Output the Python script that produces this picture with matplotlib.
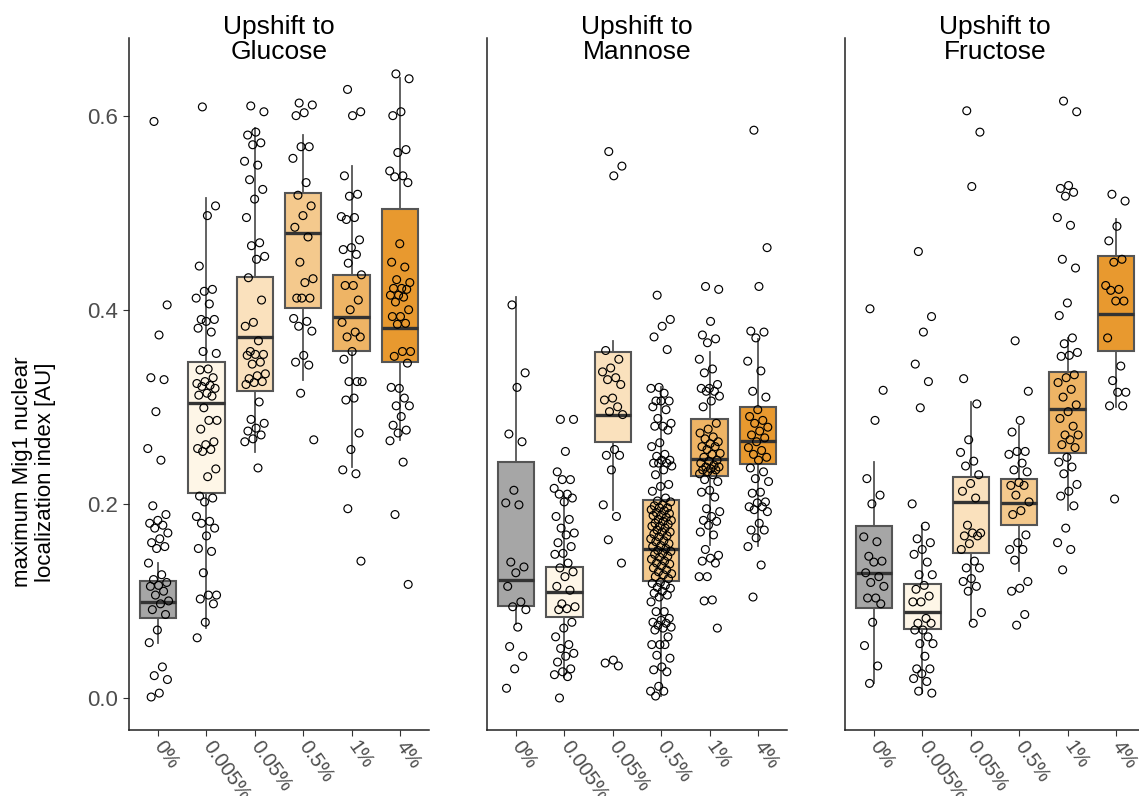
import numpy as np
import matplotlib.pyplot as plt

# --- données ---
CONDITIONS = ["0%", "0.005%", "0.05%", "0.5%", "1%", "4%"]
SUCRES = ["Glucose", "Mannose", "Fructose"]
COULEURS = ["#A6A6A6", "#FEF6E7", "#FAE1BD", "#F4C98D", "#EEB465", "#E8992F"]

# points individuels (index de localisation maximal)
gluc_0 = [0.594, 0.405, 0.374, 0.330, 0.328, 0.295, 0.257, 0.245, 0.198, 0.189, 0.183, 0.180,
          0.178, 0.175, 0.170, 0.164, 0.160, 0.156, 0.154, 0.139, 0.127, 0.122, 0.119, 0.116,
          0.115, 0.110, 0.106, 0.100, 0.097, 0.091, 0.086, 0.070, 0.057, 0.032, 0.023, 0.019,
          0.005, 0.001]
gluc_0005 = [0.609, 0.507, 0.497, 0.445, 0.421, 0.419, 0.412, 0.406, 0.390, 0.390, 0.388, 0.381,
             0.377, 0.357, 0.355, 0.339, 0.338, 0.330, 0.326, 0.324, 0.322, 0.321, 0.319, 0.314,
             0.312, 0.311, 0.299, 0.286, 0.286, 0.277, 0.264, 0.261, 0.257, 0.256, 0.254, 0.236,
             0.228, 0.208, 0.206, 0.202, 0.187, 0.182, 0.180, 0.175, 0.167, 0.154, 0.151, 0.129,
             0.106, 0.106, 0.102, 0.097, 0.078, 0.062]
gluc_005 = [0.610, 0.604, 0.583, 0.580, 0.572, 0.570, 0.553, 0.549, 0.534, 0.524, 0.514, 0.495,
            0.469, 0.466, 0.455, 0.452, 0.433, 0.410, 0.387, 0.383, 0.368, 0.357, 0.354, 0.354,
            0.353, 0.346, 0.344, 0.334, 0.332, 0.329, 0.326, 0.325, 0.323, 0.305, 0.287, 0.283,
            0.278, 0.275, 0.271, 0.267, 0.264, 0.237]
gluc_05 = [0.613, 0.611, 0.603, 0.600, 0.568, 0.568, 0.556, 0.531, 0.518, 0.507, 0.497, 0.485,
           0.475, 0.449, 0.432, 0.428, 0.412, 0.412, 0.412, 0.391, 0.388, 0.383, 0.378, 0.353,
           0.346, 0.343, 0.314, 0.266]
gluc_1 = [0.627, 0.604, 0.600, 0.538, 0.519, 0.517, 0.496, 0.495, 0.493, 0.472, 0.464, 0.462,
          0.457, 0.448, 0.436, 0.425, 0.425, 0.410, 0.400, 0.387, 0.377, 0.372, 0.372, 0.357,
          0.349, 0.326, 0.326, 0.326, 0.309, 0.307, 0.273, 0.256, 0.235, 0.231, 0.195, 0.141]
gluc_4 = [0.643, 0.638, 0.604, 0.600, 0.565, 0.562, 0.543, 0.538, 0.537, 0.531, 0.468, 0.449,
          0.444, 0.431, 0.428, 0.422, 0.422, 0.421, 0.415, 0.415, 0.413, 0.408, 0.400, 0.393,
          0.393, 0.386, 0.385, 0.357, 0.357, 0.352, 0.345, 0.319, 0.320, 0.309, 0.301, 0.301,
          0.290, 0.281, 0.276, 0.273, 0.265, 0.243, 0.189, 0.117]

mann_0 = [0.405, 0.335, 0.320, 0.272, 0.264, 0.214, 0.201, 0.199, 0.140, 0.135, 0.129, 0.115,
          0.099, 0.094, 0.091, 0.073, 0.053, 0.043, 0.030, 0.010]
mann_0005 = [0.287, 0.287, 0.254, 0.233, 0.225, 0.225, 0.216, 0.210, 0.210, 0.206, 0.202, 0.187,
             0.184, 0.175, 0.170, 0.168, 0.160, 0.156, 0.149, 0.148, 0.139, 0.134, 0.130, 0.125,
             0.115, 0.111, 0.097, 0.094, 0.092, 0.091, 0.078, 0.072, 0.063, 0.055, 0.051, 0.046,
             0.043, 0.037, 0.030, 0.027, 0.024, 0.022, 0.000]
mann_005 = [0.563, 0.548, 0.538, 0.358, 0.349, 0.340, 0.336, 0.330, 0.328, 0.323, 0.309, 0.307,
            0.300, 0.295, 0.292, 0.256, 0.250, 0.250, 0.235, 0.199, 0.187, 0.163, 0.139, 0.039,
            0.036, 0.033]
mann_05 = [0.415, 0.390, 0.383, 0.372, 0.359, 0.320, 0.319, 0.314, 0.306, 0.306, 0.306, 0.300,
           0.297, 0.288, 0.283, 0.280, 0.280, 0.276, 0.263, 0.259, 0.251, 0.249, 0.245, 0.245,
           0.242, 0.242, 0.242, 0.239, 0.235, 0.230, 0.220, 0.218, 0.213, 0.206,
           0.203, 0.202, 0.199, 0.198, 0.196, 0.196, 0.194, 0.193, 0.191, 0.190, 0.188, 0.188,
           0.186, 0.184, 0.183, 0.182, 0.180, 0.179, 0.177, 0.177, 0.175, 0.173, 0.171, 0.171,
           0.169, 0.167, 0.166, 0.164, 0.162, 0.161, 0.159, 0.157, 0.156, 0.154, 0.152, 0.151,
           0.149, 0.148, 0.146, 0.145, 0.143, 0.141, 0.139, 0.138, 0.136, 0.134, 0.132, 0.130,
           0.128, 0.127, 0.125, 0.123,
           0.119, 0.118, 0.116, 0.114, 0.113, 0.110, 0.108, 0.106, 0.104, 0.099, 0.089, 0.089,
           0.082, 0.080, 0.078, 0.077, 0.075, 0.073, 0.072, 0.070, 0.063, 0.055, 0.055, 0.055,
           0.044, 0.041, 0.032, 0.029, 0.027, 0.012, 0.007, 0.007, 0.002]
mann_1 = [0.424, 0.421, 0.388, 0.374, 0.370, 0.366, 0.349, 0.339, 0.335, 0.323, 0.319, 0.319,
          0.316, 0.316, 0.311, 0.306, 0.300, 0.283, 0.277, 0.273, 0.269, 0.267, 0.264, 0.262,
          0.259, 0.259, 0.256, 0.252, 0.251, 0.248, 0.245, 0.244, 0.242, 0.240, 0.238, 0.238,
          0.236, 0.235, 0.235, 0.233, 0.231, 0.230, 0.225, 0.223, 0.214, 0.212, 0.207, 0.195,
          0.192, 0.187, 0.183, 0.182, 0.178, 0.171, 0.168, 0.153, 0.147, 0.144, 0.141, 0.139,
          0.125, 0.125, 0.101, 0.100, 0.072]
mann_4 = [0.585, 0.464, 0.424, 0.378, 0.377, 0.371, 0.347, 0.337, 0.316, 0.310, 0.297, 0.290,
          0.286, 0.283, 0.279, 0.275, 0.271, 0.268, 0.264, 0.258, 0.255, 0.251, 0.248, 0.245,
          0.237, 0.233, 0.226, 0.223, 0.212, 0.211, 0.202, 0.201, 0.197, 0.197, 0.194, 0.192,
          0.180, 0.173, 0.173, 0.165, 0.156, 0.137, 0.104]

fruc_0 = [0.401, 0.317, 0.286, 0.226, 0.209, 0.200, 0.166, 0.161, 0.146, 0.141, 0.140, 0.129,
          0.125, 0.119, 0.115, 0.103, 0.103, 0.097, 0.078, 0.054, 0.033, 0.015]
fruc_0005 = [0.460, 0.393, 0.377, 0.344, 0.326, 0.299, 0.200, 0.177, 0.164, 0.160, 0.153, 0.148,
             0.140, 0.127, 0.127, 0.116, 0.112, 0.105, 0.099, 0.099, 0.082, 0.077, 0.077, 0.070,
             0.070, 0.063, 0.056, 0.056, 0.043, 0.030, 0.030, 0.025, 0.020, 0.017, 0.007, 0.005]
fruc_005 = [0.605, 0.583, 0.527, 0.329, 0.303, 0.266, 0.253, 0.244, 0.239, 0.230, 0.221, 0.213,
            0.206, 0.178, 0.170, 0.170, 0.167, 0.167, 0.159, 0.153, 0.141, 0.134, 0.134, 0.123,
            0.120, 0.115, 0.110, 0.088, 0.077]
fruc_05 = [0.368, 0.316, 0.286, 0.274, 0.254, 0.254, 0.251, 0.242, 0.235, 0.233, 0.222, 0.219,
           0.219, 0.209, 0.202, 0.193, 0.189, 0.168, 0.160, 0.153, 0.153, 0.142, 0.120, 0.113,
           0.110, 0.086, 0.075]
fruc_1 = [0.615, 0.604, 0.528, 0.525, 0.521, 0.517, 0.495, 0.487, 0.452, 0.443, 0.407, 0.394,
          0.371, 0.365, 0.356, 0.353, 0.352, 0.333, 0.330, 0.325, 0.318, 0.310, 0.302, 0.295,
          0.288, 0.280, 0.271, 0.271, 0.266, 0.261, 0.258, 0.248, 0.243, 0.238, 0.231, 0.220,
          0.213, 0.208, 0.198, 0.175, 0.160, 0.153, 0.132]
fruc_4 = [0.519, 0.512, 0.486, 0.471, 0.452, 0.449, 0.425, 0.421, 0.420, 0.409, 0.409, 0.371,
          0.342, 0.327, 0.315, 0.315, 0.301, 0.301, 0.205]

POINTS = {
    "Glucose": [gluc_0, gluc_0005, gluc_005, gluc_05, gluc_1, gluc_4],
    "Mannose": [mann_0, mann_0005, mann_005, mann_05, mann_1, mann_4],
    "Fructose": [fruc_0, fruc_0005, fruc_005, fruc_05, fruc_1, fruc_4],
}

# boîtes : (moustache basse, Q1, médiane, Q3, moustache haute)
BOITES = {
    "Glucose": [(0.057, 0.082, 0.099, 0.121, 0.139),
                (0.072, 0.211, 0.304, 0.346, 0.515),
                (0.253, 0.316, 0.372, 0.434, 0.587),
                (0.328, 0.402, 0.479, 0.520, 0.580),
                (0.238, 0.357, 0.393, 0.436, 0.548),
                (0.266, 0.346, 0.381, 0.504, 0.639)],
    "Mannose": [(0.076, 0.095, 0.122, 0.243, 0.413),
                (0.022, 0.083, 0.109, 0.135, 0.210),
                (0.194, 0.264, 0.292, 0.356, 0.368),
                (0.002, 0.121, 0.153, 0.204, 0.320),
                (0.158, 0.229, 0.246, 0.287, 0.356),
                (0.157, 0.241, 0.265, 0.300, 0.370)],
    "Fructose": [(0.015, 0.093, 0.129, 0.177, 0.243),
                 (0.005, 0.071, 0.089, 0.117, 0.177),
                 (0.079, 0.149, 0.202, 0.228, 0.305),
                 (0.131, 0.178, 0.201, 0.226, 0.280),
                 (0.194, 0.252, 0.298, 0.336, 0.371),
                 (0.300, 0.358, 0.396, 0.455, 0.493)],
}

GRIS_TEXTE = "#4D4D4D"
plt.rcParams['font.family'] = ['Liberation Sans', 'DejaVu Sans']

fig = plt.figure(figsize=(11.39, 7.96), dpi=100)

# positions des panneaux en pixels (gauche) -> fraction de figure
gauches = [129, 487, 845]
largeur = 300 / 1139
bas = 66 / 796
hauteur = 692 / 796


def jitter(n, largeur_j=0.22):
    # décalage horizontal déterministe (suite du nombre d'or)
    i = np.arange(n)
    return ((i * 0.6180339887 + 0.31) % 1 - 0.5) * 2 * largeur_j


for k, sucre in enumerate(SUCRES):
    ax = fig.add_axes([gauches[k] / 1139, bas, largeur, hauteur])

    stats = []
    for j, (lo, q1, med, q3, hi) in enumerate(BOITES[sucre]):
        stats.append({"whislo": lo, "q1": q1, "med": med, "q3": q3, "whishi": hi,
                      "fliers": [], "label": CONDITIONS[j]})
    bp = ax.bxp(stats, positions=range(6), widths=0.75, patch_artist=True,
                showcaps=False, showfliers=False,
                boxprops=dict(edgecolor="#555555", linewidth=1.5),
                whiskerprops=dict(color="#555555", linewidth=1.3),
                medianprops=dict(color="#333333", linewidth=2.4))
    for patch, c in zip(bp["boxes"], COULEURS):
        patch.set_facecolor(c)

    for j, vals in enumerate(POINTS[sucre]):
        vals = np.array(vals)
        x = j + jitter(len(vals))
        ax.scatter(x, vals, s=32, facecolors="none", edgecolors="black",
                   linewidths=0.85, zorder=3)

    ax.set_xlim(-0.6, 5.6)
    ax.set_ylim(-0.033, 0.680)
    ax.set_xticks(range(6))
    ax.set_xticklabels(CONDITIONS, rotation=-55, ha="left", va="center",
                       rotation_mode="anchor", color=GRIS_TEXTE, fontsize=14.5)
    ax.tick_params(axis="x", length=4, color="#333333", pad=5)
    for cote in ["top", "right"]:
        ax.spines[cote].set_visible(False)
    for cote in ["left", "bottom"]:
        ax.spines[cote].set_color("#222222")
        ax.spines[cote].set_linewidth(1.1)

    if k == 0:
        ax.set_yticks([0.0, 0.2, 0.4, 0.6])
        ax.set_yticklabels(["0.0", "0.2", "0.4", "0.6"], color=GRIS_TEXTE, fontsize=16)
        ax.tick_params(axis="y", length=4, color="#333333", pad=4)
    else:
        ax.set_yticks([])

    cx = (gauches[k] + 150) / 1139
    fig.text(cx, 1 - 15 / 796, f"Upshift to\n{sucre}", ha="center", va="top",
             fontsize=19, linespacing=1.05)

fig.text(34 / 1139, 1 - 472 / 796, "maximum Mig1 nuclear\nlocalization index [AU]",
         rotation=90, ha="center", va="center", fontsize=16, linespacing=1.1)

fig.savefig("out.png", dpi=100)
